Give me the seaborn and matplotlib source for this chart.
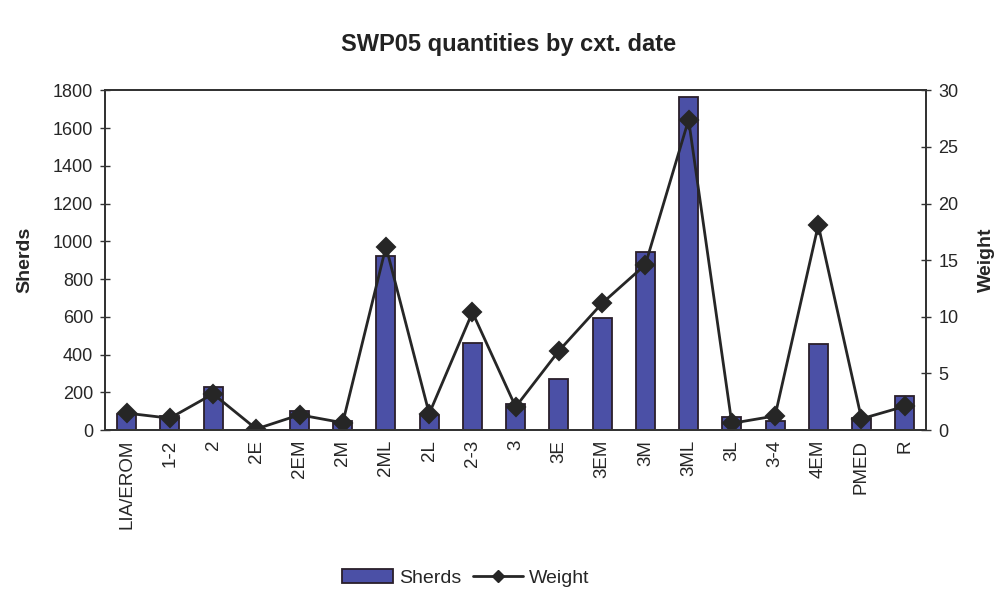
import numpy as np
import pandas as pd
import matplotlib
matplotlib.use('Agg')
import matplotlib.pyplot as plt
import seaborn as sns
from matplotlib.lines import Line2D
from matplotlib.patches import Patch

# DATA
dates = ['LIA/EROM', '1-2', '2', '2E', '2EM', '2M', '2ML', '2L', '2-3', '3',
         '3E', '3EM', '3M', '3ML', '3L', '3-4', '4EM', 'PMED', 'R']
sherds = [85, 74, 227, 0, 100, 50, 922, 79, 462, 137,
          272, 594, 943, 1765, 67, 46, 455, 62, 180]
weight = [1.5, 1.05, 3.2, 0.1, 1.35, 0.65, 16.2, 1.45, 10.4, 2.05,
          7.0, 11.2, 14.6, 27.4, 0.6, 1.25, 18.1, 1.0, 2.1]

df = pd.DataFrame({'date': dates, 'Sherds': sherds, 'Weight': weight})

sns.set_style('white')
plt.rcParams['font.family'] = ['Liberation Sans', 'DejaVu Sans']

bar_col = '#4b50a6'
line_col = '#262626'
fs = 13

fig = plt.figure(figsize=(9.98, 5.90), dpi=100)
ax = fig.add_axes([0.1052, 0.271, 0.823, 0.576])

sns.barplot(data=df, x='date', y='Sherds', ax=ax, color=bar_col,
            width=0.44, edgecolor='#2a1f2a', linewidth=1.3, saturation=1)

ax2 = ax.twinx()
sns.pointplot(data=df, x='date', y='Weight', ax=ax2, color=line_col,
              markers='D', linestyles='-', markersize=9, linewidth=2)

# Axis formatting
ax.set_xlim(-0.5, len(dates) - 0.5)
ax.set_ylim(0, 1800)
ax.set_yticks(np.arange(0, 1801, 200))
ax2.set_ylim(0, 30)
ax2.set_yticks(np.arange(0, 31, 5))

ax.set_xticks(range(len(dates)))
ax.set_xticklabels(dates, rotation=90, fontsize=fs + 0.5)
ax.set_xticks(np.arange(-0.5, len(dates), 1), minor=True)
ax.tick_params(axis='x', which='major', length=0, pad=7)
ax.tick_params(axis='x', which='minor', length=7, width=1, direction='inout', color='#333333')
ax.tick_params(axis='y', length=7, width=1, direction='inout', labelsize=fs, color='#333333', pad=5)
ax2.tick_params(axis='y', length=7, width=1, direction='inout', labelsize=fs, color='#333333', pad=5)
ax.set_xlabel('')
ax2.set_xlabel('')

ax.set_ylabel('Sherds', fontsize=14, fontweight='bold', labelpad=14)
ax2.set_ylabel('Weight', fontsize=14, fontweight='bold', labelpad=14)

for a in (ax, ax2):
    for s in a.spines.values():
        s.set_color('#333333')
        s.set_linewidth(1.3)

fig.suptitle('SWP05 quantities by cxt. date', fontsize=17, fontweight='bold',
             x=0.51, y=0.924, va='center', color='#222222')

handles = [Patch(facecolor=bar_col, edgecolor='#2a1f2a', linewidth=1.3, label='Sherds'),
           Line2D([0], [0], color=line_col, marker='D', markersize=6, linewidth=2, label='Weight')]
fig.legend(handles=handles, loc='center', ncol=2, frameon=False, fontsize=14,
           bbox_to_anchor=(0.467, 0.02), handlelength=2.6, columnspacing=0.6,
           handletextpad=0.3, handleheight=0.7)

fig.savefig('out.png', dpi=100)
